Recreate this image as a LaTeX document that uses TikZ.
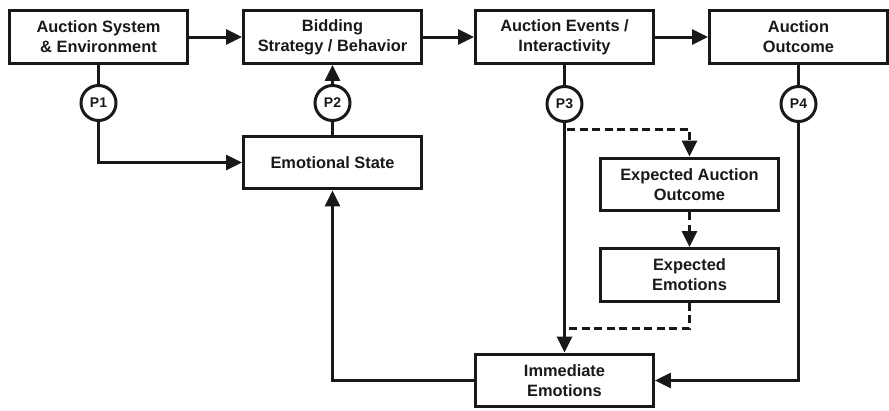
\documentclass[tikz,border=0pt]{standalone}
\usepackage{fontspec}
\setmainfont{Liberation Sans}
\usetikzlibrary{arrows.meta,calc}
\begin{document}
\begin{tikzpicture}[x=1pt,y=-1pt,
  box/.style={draw=black!90,line width=3.4pt,minimum width=177.5pt,minimum height=52.5pt,inner sep=0pt,align=center,text=black!90,font=\fontsize{16.4}{20}\selectfont\bfseries},
  pc/.style={draw=black!90,line width=3pt,circle,minimum size=35pt,inner sep=0pt,text=black!90,font=\fontsize{14}{16}\selectfont\bfseries},
  conn/.style={line width=3pt,black!90},
  arr/.style={conn,-{Triangle[length=16pt,width=15pt]}},
  dsh/.style={conn,dash pattern=on 8pt off 4.5pt}
]
\useasboundingbox (0,0) rectangle (889,410);
\node[box] (sys) at (98.5,37) {Auction System\\\& Environment};
\node[box] (bid) at (332.5,37) {Bidding\\Strategy / Behavior};
\node[box] (evt) at (564.5,37) {Auction Events /\\Interactivity};
\node[box] (out) at (798.5,37) {Auction\\Outcome};
\node[box] (es) at (332.5,162.5) {Emotional State};
\node[box] (eao) at (689.5,184.5) {Expected Auction\\Outcome};
\node[box] (ee) at (689.5,275) {Expected\\Emotions};
\node[box] (ie) at (564.5,380.5) {Immediate\\Emotions};
\node[pc] (p1) at (98.5,103) {P1};
\node[pc] (p2) at (332.5,103) {P2};
\node[pc] (p3) at (564.5,104) {P3};
\node[pc] (p4) at (798.5,104) {P4};
\coordinate (d1) at (567,129);
\coordinate (d2) at (564.5,328);
% top row
\draw[arr] (sys.east) -- (bid.west);
\draw[arr] (bid.east) -- (evt.west);
\draw[arr] (evt.east) -- (out.west);
% P1
\draw[conn] (sys.south) -- (p1.north);
\draw[arr] (p1.south) |- (es.west);
% P2
\draw[conn] (es.north) -- (p2.south);
\draw[arr] (p2.north) -- (bid.south);
% P3
\draw[conn] (evt.south) -- (p3.north);
\draw[arr] (p3.south) -- (ie.north);
% P4
\draw[conn] (out.south) -- (p4.north);
\draw[arr] (p4.south) |- (ie.east);
% feedback
\draw[arr] (ie.west) -| (es.south);
% dashed
\draw[dsh,-{Triangle[length=16pt,width=15pt]}] (d1) -| (eao.north);
\draw[dsh,-{Triangle[length=16pt,width=15pt]}] (eao.south) -- (ee.north);
\draw[dsh] (ee.south) |- (d2);
\end{tikzpicture}
\end{document}
